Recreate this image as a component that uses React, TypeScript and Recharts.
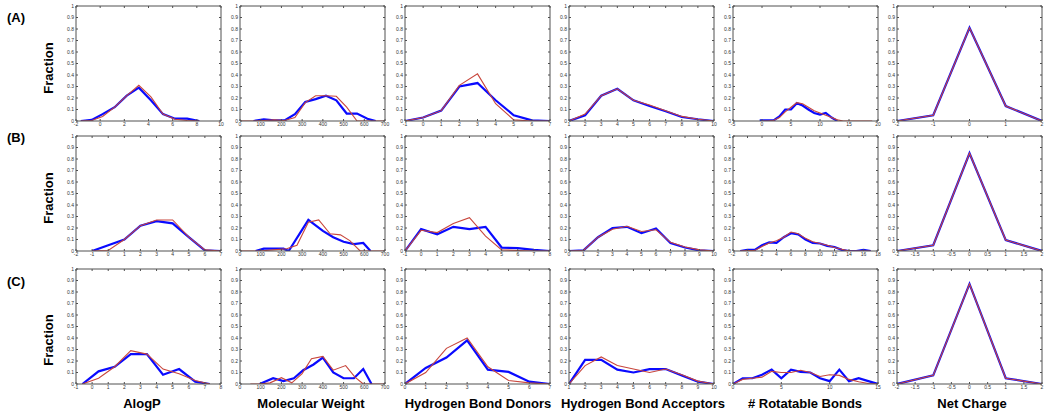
import React from 'react';
import { LineChart, Line, XAxis, YAxis } from 'recharts';

const FONT = '"Liberation Sans", Arial, Helvetica, sans-serif';
const BLUE = '#0a0aff';
const RED = '#c8463c';
const FRAME = '#505050';

const rowLabels = ['(A)', '(B)', '(C)'];
const columnTitles = ['AlogP', 'Molecular Weight', 'Hydrogen Bond Donors', 'Hydrogen Bond Acceptors', '# Rotatable Bonds', 'Net Charge'];
const yTicks = [0, 0.1, 0.2, 0.3, 0.4, 0.5, 0.6, 0.7, 0.8, 0.9, 1];

// ---------- Row A ----------
const alogpTicksA = [-2, 0, 2, 4, 6, 8, 10];
const alogpXA = [-1.6, -0.7, 0.2, 1.2, 2.2, 3.2, 4.2, 5.2, 6.2, 7.2, 8.2];
const alogpBlueA = [0, 0.01, 0.06, 0.12, 0.22, 0.29, 0.18, 0.06, 0.02, 0.02, 0];
const alogpRedA = [0, 0.005, 0.04, 0.12, 0.22, 0.31, 0.21, 0.06, 0.015, 0.005, 0];

const mwTicks = [0, 100, 200, 300, 400, 500, 600, 700];
const mwBlueXA = [65, 115, 165, 215, 265, 315, 365, 415, 465, 515, 565, 615, 655];
const mwBlueA = [0, 0.015, 0.005, 0.005, 0.06, 0.165, 0.19, 0.22, 0.18, 0.065, 0.065, 0.02, 0];
const mwRedXA = [0, 65, 115, 165, 215, 265, 315, 365, 415, 465, 515, 565, 615, 700];
const mwRedA = [0, 0, 0.005, 0.01, 0.005, 0.03, 0.16, 0.22, 0.22, 0.215, 0.12, 0, 0, 0];

const hbdTicksA = [-1, 0, 1, 2, 3, 4, 5, 6, 7];
const hbdXA = [-1, 0, 1, 2, 3, 4, 5, 6, 7];
const hbdBlueA = [0, 0.03, 0.09, 0.3, 0.33, 0.18, 0.05, 0.005, 0];
const hbdRedA = [0, 0.03, 0.09, 0.31, 0.41, 0.15, 0.01, 0, 0];

const hbaTicksA = [1, 2, 3, 4, 5, 6, 7, 8, 9, 10];
const hbaXA = [1, 2, 3, 4, 5, 6, 7, 8, 9, 10];
const hbaBlueA = [0, 0.05, 0.22, 0.28, 0.18, 0.13, 0.085, 0.035, 0.015, 0];
const hbaRedA = [0, 0.06, 0.22, 0.28, 0.18, 0.14, 0.09, 0.04, 0.015, 0];

const rotTicksA = [-5, 0, 5, 10, 15, 20];
const rotBlueXA = [-0.4, 1, 2, 3, 4, 5, 6, 7, 8, 9, 10, 11, 12, 13];
const rotBlueA = [0.005, 0.005, 0.005, 0.04, 0.1, 0.1, 0.155, 0.135, 0.1, 0.07, 0.055, 0.07, 0.03, 0];
const rotRedXA = [0, 1, 2, 3, 4, 5, 6, 7, 8, 9, 10, 11, 12, 13, 14, 19];
const rotRedA = [0, 0, 0.005, 0.03, 0.08, 0.12, 0.16, 0.15, 0.12, 0.09, 0.07, 0.05, 0.03, 0.01, 0, 0];

const chargeTicksA = [-2, -1, 0, 1, 2];
const chargeX = [-2, -1, 0, 1, 2];
const chargeBlueA = [0, 0.05, 0.81, 0.13, 0];
const chargeRedA = [0, 0.05, 0.81, 0.13, 0];

// ---------- Row B ----------
const alogpTicksB = [-2, -1, 0, 1, 2, 3, 4, 5, 6, 7];
const alogpXB = [-1, 0, 1, 2, 3, 4, 5, 6, 7];
const alogpBlueB = [0, 0.05, 0.1, 0.22, 0.26, 0.24, 0.12, 0.005, 0];
const alogpRedB = [0, 0.005, 0.1, 0.22, 0.27, 0.27, 0.12, 0.01, 0];

const mwBlueXB = [75, 115, 160, 210, 235, 330, 400, 450, 500, 550, 595, 630];
const mwBlueB = [0, 0.02, 0.02, 0.02, 0, 0.27, 0.175, 0.12, 0.08, 0.06, 0.07, 0];
const mwRedXB = [0, 95, 160, 225, 275, 330, 380, 435, 485, 530, 580, 700];
const mwRedB = [0, 0, 0.01, 0.02, 0.05, 0.25, 0.27, 0.15, 0.14, 0.09, 0, 0];

const hbdTicksB = [-1, 0, 1, 2, 3, 4, 5, 6, 7, 8];
const hbdXB = [-1, 0, 1, 2, 3, 4, 5, 6, 7, 8];
const hbdBlueB = [0, 0.19, 0.145, 0.21, 0.19, 0.21, 0.03, 0.025, 0.01, 0];
const hbdRedB = [0, 0.18, 0.16, 0.24, 0.29, 0.13, 0.01, 0.005, 0, 0];

const hbaTicksB = [0, 1, 2, 3, 4, 5, 6, 7, 8, 9, 10];
const hbaXB = [0, 1, 2, 3, 4, 5, 6, 7, 8, 9, 10];
const hbaBlueB = [0, 0.005, 0.12, 0.2, 0.21, 0.155, 0.195, 0.07, 0.03, 0.005, 0];
const hbaRedB = [0, 0.005, 0.12, 0.19, 0.215, 0.17, 0.185, 0.075, 0.035, 0.01, 0];

const rotTicksB = [-2, 0, 2, 4, 6, 8, 10, 12, 14, 16, 18];
const rotXB = [-1, 0, 1, 2, 3, 4, 5, 6, 7, 8, 9, 10, 11, 12, 13, 14, 15, 16, 17];
const rotBlueB = [0, 0.01, 0.01, 0.05, 0.075, 0.07, 0.12, 0.155, 0.145, 0.1, 0.07, 0.065, 0.045, 0.035, 0.01, 0, 0, 0.01, 0];
const rotRedB = [0, 0.005, 0.005, 0.04, 0.07, 0.09, 0.12, 0.165, 0.15, 0.11, 0.08, 0.065, 0.05, 0.03, 0.015, 0, 0, 0, 0];

const chargeTicksBC = [-2, -1.5, -1, -0.5, 0, 0.5, 1, 1.5, 2];
const chargeBlueB = [0, 0.05, 0.85, 0.095, 0];
const chargeRedB = [0, 0.05, 0.85, 0.095, 0];

// ---------- Row C ----------
const alogpTicksC = [-1, 0, 1, 2, 3, 4, 5, 6, 7, 8];
const alogpXC = [-0.6, 0.4, 1.4, 2.4, 3.4, 4.4, 5.4, 6.4, 7.3];
const alogpBlueC = [0, 0.11, 0.15, 0.26, 0.26, 0.08, 0.13, 0.02, 0];
const alogpRedC = [0, 0.05, 0.15, 0.29, 0.26, 0.13, 0.09, 0.03, 0];

const mwBlueXC = [95, 160, 210, 260, 305, 355, 400, 450, 500, 550, 595, 635];
const mwBlueC = [0, 0.05, 0.025, 0.05, 0.12, 0.17, 0.23, 0.1, 0.05, 0.05, 0.13, 0];
const mwRedXC = [50, 95, 145, 200, 250, 300, 345, 400, 450, 510, 555, 595, 700];
const mwRedC = [0, 0, 0.01, 0.055, 0.01, 0.09, 0.22, 0.24, 0.12, 0.16, 0.06, 0, 0];

const hbdTicksC = [0, 1, 2, 3, 4, 5, 6, 7];
const hbdXC = [0, 1, 2, 3, 4, 5, 6, 7];
const hbdBlueC = [0, 0.14, 0.23, 0.38, 0.125, 0.105, 0.02, 0];
const hbdRedC = [0, 0.1, 0.31, 0.4, 0.15, 0.03, 0.01, 0];

const hbaBlueC = [0, 0.21, 0.21, 0.125, 0.1, 0.13, 0.13, 0.075, 0.02, 0];
const hbaRedC = [0, 0.16, 0.235, 0.16, 0.13, 0.1, 0.13, 0.08, 0.025, 0];

const rotTicksC = [0, 5, 10, 15];
const rotXC = [0, 1, 2, 3, 4, 5, 6, 7, 8, 9, 10, 11, 12, 13, 14, 15];
const rotBlueC = [0, 0.05, 0.05, 0.08, 0.125, 0.05, 0.125, 0.105, 0.1, 0.05, 0.025, 0.125, 0.025, 0.05, 0.025, 0];
const rotRedC = [0, 0.04, 0.05, 0.06, 0.11, 0.1, 0.1, 0.12, 0.1, 0.065, 0.08, 0.075, 0.04, 0.02, 0.005, 0];

const chargeBlueC = [0, 0.075, 0.87, 0.05, 0];
const chargeRedC = [0, 0.075, 0.87, 0.05, 0];

interface PanelSpec {
  domain: [number, number];
  ticks: number[];
  blueX: number[];
  blue: number[];
  redX: number[];
  red: number[];
}

const panelRows: PanelSpec[][] = [
  [
    { domain: [-2, 10], ticks: alogpTicksA, blueX: alogpXA, blue: alogpBlueA, redX: alogpXA, red: alogpRedA },
    { domain: [0, 700], ticks: mwTicks, blueX: mwBlueXA, blue: mwBlueA, redX: mwRedXA, red: mwRedA },
    { domain: [-1, 7], ticks: hbdTicksA, blueX: hbdXA, blue: hbdBlueA, redX: hbdXA, red: hbdRedA },
    { domain: [1, 10], ticks: hbaTicksA, blueX: hbaXA, blue: hbaBlueA, redX: hbaXA, red: hbaRedA },
    { domain: [-5, 20], ticks: rotTicksA, blueX: rotBlueXA, blue: rotBlueA, redX: rotRedXA, red: rotRedA },
    { domain: [-2, 2], ticks: chargeTicksA, blueX: chargeX, blue: chargeBlueA, redX: chargeX, red: chargeRedA },
  ],
  [
    { domain: [-2, 7], ticks: alogpTicksB, blueX: alogpXB, blue: alogpBlueB, redX: alogpXB, red: alogpRedB },
    { domain: [0, 700], ticks: mwTicks, blueX: mwBlueXB, blue: mwBlueB, redX: mwRedXB, red: mwRedB },
    { domain: [-1, 8], ticks: hbdTicksB, blueX: hbdXB, blue: hbdBlueB, redX: hbdXB, red: hbdRedB },
    { domain: [0, 10], ticks: hbaTicksB, blueX: hbaXB, blue: hbaBlueB, redX: hbaXB, red: hbaRedB },
    { domain: [-2, 18], ticks: rotTicksB, blueX: rotXB, blue: rotBlueB, redX: rotXB, red: rotRedB },
    { domain: [-2, 2], ticks: chargeTicksBC, blueX: chargeX, blue: chargeBlueB, redX: chargeX, red: chargeRedB },
  ],
  [
    { domain: [-1, 8], ticks: alogpTicksC, blueX: alogpXC, blue: alogpBlueC, redX: alogpXC, red: alogpRedC },
    { domain: [0, 700], ticks: mwTicks, blueX: mwBlueXC, blue: mwBlueC, redX: mwRedXC, red: mwRedC },
    { domain: [0, 7], ticks: hbdTicksC, blueX: hbdXC, blue: hbdBlueC, redX: hbdXC, red: hbdRedC },
    { domain: [1, 10], ticks: hbaTicksA, blueX: hbaXA, blue: hbaBlueC, redX: hbaXA, red: hbaRedC },
    { domain: [0, 15], ticks: rotTicksC, blueX: rotXC, blue: rotBlueC, redX: rotXC, red: rotRedC },
    { domain: [-2, 2], ticks: chargeTicksBC, blueX: chargeX, blue: chargeBlueC, redX: chargeX, red: chargeRedC },
  ],
];

const COL_LEFT = [76, 240, 405, 569, 733, 897];
const ROW_TOP = [6, 136, 269];
const PW = 145;
const PH = 115;
const YW = 16;
const XH = 12;
const MT = 5;
const MR = 7;

const TITLE_X = [142, 311, 478, 643, 805, 972];
const ROW_LABEL_Y = [22, 142, 286];
const FRACTION_Y = [68, 198, 340];

const noTick = () => <g />;
const tickStyle = { fontSize: 5, fill: '#333', fontFamily: FONT };

function Panel({ spec, left, top }: { spec: PanelSpec; left: number; top: number }) {
  const blueData = spec.blueX.map((x, i) => ({ x, y: spec.blue[i] }));
  const redData = spec.redX.map((x, i) => ({ x, y: spec.red[i] }));
  return (
    <div style={{ position: 'absolute', left: left - YW, top: top - 1 - MT }}>
      <LineChart width={YW + PW + 1 + MR} height={PH + XH + 1 + MT} margin={{ top: MT, right: MR, bottom: 0, left: 0 }}>
        <XAxis xAxisId="b" type="number" dataKey="x" domain={spec.domain} ticks={spec.ticks} interval={0}
          allowDataOverflow height={XH} tickSize={-2} tickMargin={3} stroke={FRAME} tick={tickStyle} />
        <XAxis xAxisId="t" orientation="top" type="number" dataKey="x" domain={spec.domain} ticks={spec.ticks}
          interval={0} allowDataOverflow height={1} tickSize={-2} stroke={FRAME} tick={noTick} />
        <YAxis yAxisId="l" type="number" domain={[0, 1]} ticks={yTicks} interval={0} allowDataOverflow
          width={YW} tickSize={-2} tickMargin={4} stroke={FRAME} tick={tickStyle} />
        <YAxis yAxisId="r" orientation="right" type="number" domain={[0, 1]} ticks={yTicks} interval={0}
          allowDataOverflow width={1} tickSize={-2} stroke={FRAME} tick={noTick} />
        <Line xAxisId="b" yAxisId="l" data={blueData} dataKey="y" type="linear" stroke={BLUE} strokeWidth={2.2}
          dot={false} activeDot={false} isAnimationActive={false} />
        <Line xAxisId="b" yAxisId="l" data={redData} dataKey="y" type="linear" stroke={RED} strokeWidth={1.1}
          dot={false} activeDot={false} isAnimationActive={false} />
      </LineChart>
    </div>
  );
}

export default function App() {
  return (
    <div style={{ position: 'absolute', left: 0, top: 0, width: 1050, height: 416, background: '#fff', overflow: 'hidden' }}>
      {panelRows.map((row, r) =>
        row.map((spec, c) => <Panel key={`${r}-${c}`} spec={spec} left={COL_LEFT[c]} top={ROW_TOP[r]} />)
      )}
      <svg width={1050} height={416} style={{ position: 'absolute', left: 0, top: 0, pointerEvents: 'none' }}>
        {rowLabels.map((t, r) => (
          <text key={t} x={7} y={ROW_LABEL_Y[r]} fontFamily={FONT} fontWeight="bold" fontSize={13} fill="#000">{t}</text>
        ))}
        {FRACTION_Y.map((y, r) => (
          <text key={`f${r}`} transform={`translate(53,${y}) rotate(-90)`} textAnchor="middle" fontFamily={FONT}
            fontWeight="bold" fontSize={13} fill="#000">Fraction</text>
        ))}
        {columnTitles.map((t, c) => (
          <text key={t} x={TITLE_X[c]} y={408} textAnchor="middle" fontFamily={FONT} fontWeight="bold" fontSize={13} fill="#000">{t}</text>
        ))}
      </svg>
    </div>
  );
}
